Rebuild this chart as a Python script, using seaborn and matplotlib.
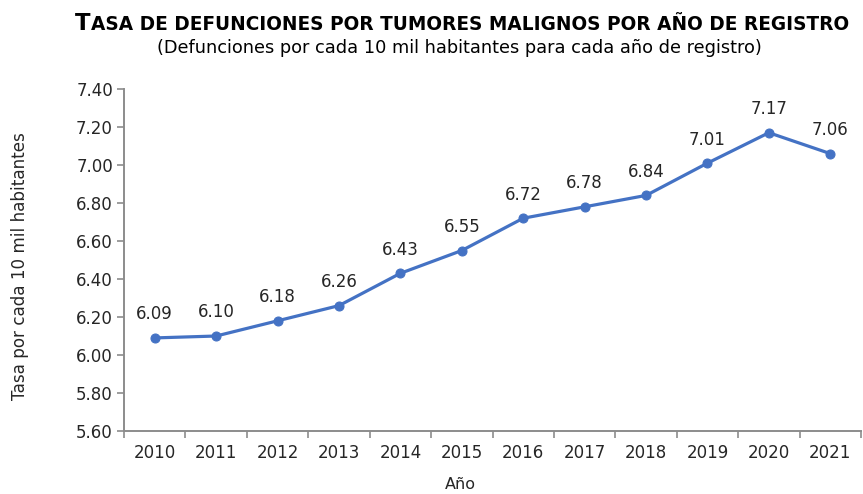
import matplotlib
matplotlib.use("Agg")
import matplotlib.pyplot as plt
import seaborn as sns
import pandas as pd
from matplotlib.ticker import FixedLocator

# data
years = [2010, 2011, 2012, 2013, 2014, 2015, 2016, 2017, 2018, 2019, 2020, 2021]
rates = [6.09, 6.10, 6.18, 6.26, 6.43, 6.55, 6.72, 6.78, 6.84, 7.01, 7.17, 7.06]
y_ticks = [5.60, 5.80, 6.00, 6.20, 6.40, 6.60, 6.80, 7.00, 7.20, 7.40]

title_first = "T"
title_rest = "ASA DE DEFUNCIONES POR TUMORES MALIGNOS POR AÑO DE REGISTRO"
subtitle = "(Defunciones por cada 10 mil habitantes para cada año de registro)"
y_label = "Tasa por cada 10 mil habitantes"
x_label = "Año"

sns.set_style("white")
plt.rcParams["font.family"] = ["DejaVu Sans"]

df = pd.DataFrame({"year": years, "rate": rates})

fig = plt.figure(figsize=(8.63, 4.94), dpi=100)
ax = fig.add_axes([0.1437, 0.1275, 0.854, 0.6923])

line_color = "#4472C4"
sns.lineplot(data=df, x="year", y="rate", ax=ax, color=line_color,
             linewidth=2.3, marker="o", markersize=6.5,
             markeredgecolor=line_color)

for x, y in zip(years, rates):
    ax.annotate(f"{y:.2f}", (x, y), xytext=(0, 17), textcoords="offset points",
                ha="center", va="center", fontsize=12, color="#262626")

ax.set_xlim(years[0] - 0.5, years[-1] + 0.5)
ax.set_ylim(y_ticks[0], y_ticks[-1])
ax.set_yticks(y_ticks)
ax.set_yticklabels([f"{t:.2f}" for t in y_ticks])
ax.set_xticks(years)
ax.set_xticklabels([str(y) for y in years])
ax.xaxis.set_minor_locator(FixedLocator([y - 0.5 for y in years] + [years[-1] + 0.5]))
ax.tick_params(axis="x", which="major", length=0, pad=9, labelsize=12, labelcolor="#262626")
ax.tick_params(axis="x", which="minor", length=5, width=1.2, color="#8c8c8c", direction="out")
ax.tick_params(axis="y", length=5, width=1.2, color="#8c8c8c", direction="out",
               labelsize=12, labelcolor="#262626", pad=3)
ax.xaxis.set_ticks_position("bottom")
ax.yaxis.set_ticks_position("left")

for side in ["top", "right"]:
    ax.spines[side].set_visible(False)
for side in ["left", "bottom"]:
    ax.spines[side].set_color("#8c8c8c")
    ax.spines[side].set_linewidth(1.4)

ax.set_xlabel("")
ax.set_ylabel("")
fig.text(20 / 863, 1 - 266 / 494, y_label, rotation=90, ha="center", va="center",
         fontsize=12.1, color="#262626")
fig.text(460 / 863, 1 - 484 / 494, x_label, ha="center", va="center",
         fontsize=11.5, color="#262626")

# small-caps style title
base = 1 - 30 / 494
t1 = fig.text(75 / 863, base, title_first, ha="left", va="baseline",
              fontsize=16.3, fontweight="bold", color="black")
fig.canvas.draw()
bb = t1.get_window_extent()
fig.text(bb.x1 / fig.bbox.width, base, title_rest, ha="left", va="baseline",
         fontsize=13.35, fontweight="bold", color="black")
fig.text(459 / 863, 1 - 48 / 494, subtitle, ha="center", va="center",
         fontsize=12.8, color="black")

fig.savefig("out.png", dpi=100)
